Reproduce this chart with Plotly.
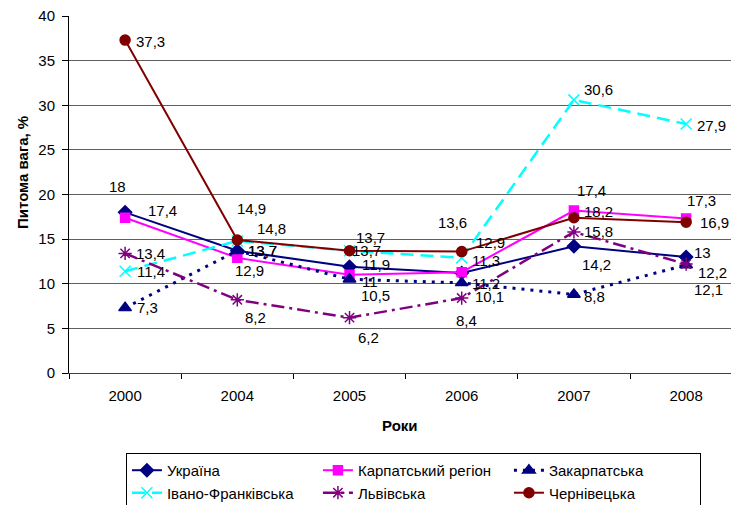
import plotly.graph_objects as go

years = ["2000", "2004", "2005", "2006", "2007", "2008"]

ukraine = [18, 13.7, 11.9, 11.2, 14.2, 13]
karpatskyi = [17.4, 12.9, 11, 11.3, 18.2, 17.3]
zakarpatska = [7.3, 13.7, 10.5, 10.1, 8.8, 12.1]
ivano = [11.4, 14.8, 13.7, 12.9, 30.6, 27.9]
lvivska = [13.4, 8.2, 6.2, 8.4, 15.8, 12.2]
chernivetska = [37.3, 14.9, 13.7, 13.6, 17.4, 16.9]

names = ["Україна", "Карпатський регіон", "Закарпатська",
         "Івано-Франківська", "Львівська", "Чернівецька"]

FONT = "Liberation Sans, Arial, sans-serif"


def fmt(v):
    return f"{v:g}".replace(".", ",")


# label offsets in pixels (dx, dy) relative to the point, per series
styles = [
    dict(color="#000080", dash="solid", width=2, symbol="diamond", msize=10,
         off=[(-8, 26), (25, 0), (26, 2), (24, -10), (23, -18), (16, 4)]),
    dict(color="#FF00FF", dash="solid", width=2, symbol="square", msize=9,
         off=[(37, 7), (12, -13), (20, -7), (24, 12), (25, -1), (15, 18)]),
    dict(color="#000080", dash="3px,6px", width=3, symbol="triangle-up", msize=11,
         off=[(22, 0), (25, 0), (26, -16), (28, -14), (21, -2), (22, -24)]),
    dict(color="#00FFFF", dash="13px,7px", width=2.5, symbol="x-thin-open", msize=11,
         off=[(26, 0), (34, 12), (17, 0), (29, 15), (25, 10), (25, -2)]),
    dict(color="#800080", dash="13px,5px,3px,5px", width=2.5, symbol="asterisk-open", msize=11,
         off=[(25, 0), (18, -18), (19, -20), (5, -22), (25, 0), (26, -8)]),
    dict(color="#800000", dash="solid", width=2, symbol="circle", msize=10,
         off=[(25, -1), (14, 32), (21, 13), (-9, 29), (18, 27), (28, 0)]),
]

series = [ukraine, karpatskyi, zakarpatska, ivano, lvivska, chernivetska]

fig = go.Figure()
annotations = []
for name, vals, st in zip(names, series, styles):
    fig.add_trace(go.Scatter(
        x=years, y=vals, name=name, mode="lines+markers",
        line=dict(color=st["color"], dash=st["dash"], width=st["width"]),
        marker=dict(symbol=st["symbol"], size=st["msize"], color=st["color"],
                    line=dict(color=st["color"], width=1.5)),
        cliponaxis=False,
    ))
    # category index of each year on the category axis
    for idx, (v, (dx, dy)) in enumerate(zip(vals, st["off"])):
        annotations.append(dict(
            x=idx, y=v, xref="x", yref="y", text=fmt(v), showarrow=False,
            xanchor="center", yanchor="middle", xshift=dx, yshift=dy,
            font=dict(family=FONT, size=15, color="black"),
        ))

annotations += [
    dict(text="<b>Роки</b>", xref="paper", yref="paper", x=0.5, y=-0.146,
         xanchor="center", yanchor="middle", showarrow=False,
         font=dict(size=15)),
    dict(text="<b>Питома вага, %</b>", xref="paper", yref="paper", x=-0.071, y=0.563,
         xanchor="center", yanchor="middle", showarrow=False, textangle=-90,
         font=dict(size=15)),
]

fig.update_layout(
    width=731, height=505,
    margin=dict(l=69, r=0, t=16, b=132, autoexpand=False),
    paper_bgcolor="white", plot_bgcolor="white",
    font=dict(family=FONT, size=15, color="black"),
    showlegend=True,
    legend=dict(
        orientation="h", x=0.086, y=-0.224, xanchor="left", yanchor="top",
        bordercolor="black", borderwidth=1, bgcolor="white",
        font=dict(family=FONT, size=15, color="black"),
        entrywidth=146, entrywidthmode="pixels",
    ),
    xaxis=dict(
        type="category", range=[-0.5, 5.4], showgrid=False,
        showline=True, linecolor="#404040", linewidth=1,
        ticks="outside", tickson="boundaries", ticklen=5, tickcolor="black",
        tickfont=dict(size=15), zeroline=False, automargin=False,
        ticklabelstandoff=9,
    ),
    yaxis=dict(
        range=[0, 40], dtick=5, showgrid=True, gridcolor="#606060", gridwidth=1,
        showline=True, linecolor="black", linewidth=1,
        ticks="outside", ticklen=6, tickcolor="black",
        tickfont=dict(size=15), zeroline=False, automargin=False,
        ticklabelstandoff=4,
    ),
    annotations=annotations,
)

fig.write_html(
    "out.html",
    config={"displayModeBar": False},
    post_script="document.body.style.margin='0';document.body.style.overflow='hidden';",
)
